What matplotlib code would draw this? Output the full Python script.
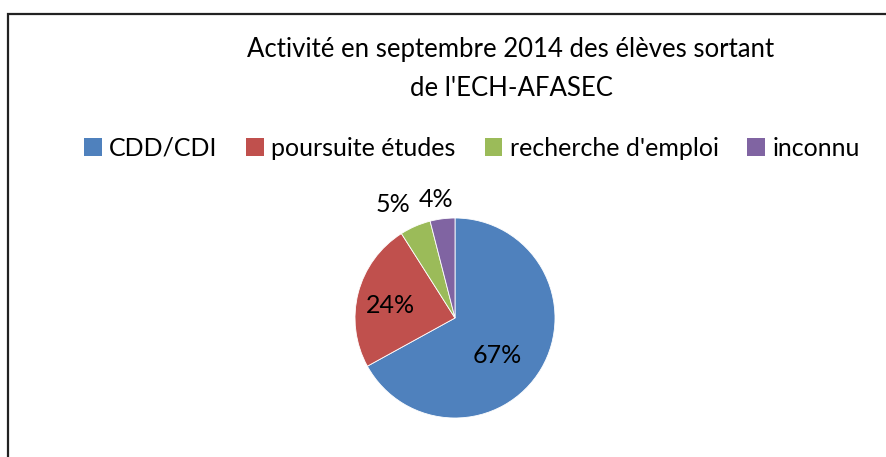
import numpy as np
import matplotlib
matplotlib.use("Agg")
import matplotlib.pyplot as plt
from matplotlib.patches import Rectangle, Patch

plt.rcParams['font.family'] = ['Lato', 'DejaVu Sans']

categories = ["CDD/CDI", "poursuite études", "recherche d'emploi", "inconnu"]
values = [67, 24, 5, 4]
colors = ["#4F81BD", "#C0504D", "#9BBB59", "#8064A2"]
# position des étiquettes : distance au centre, décalage d'angle (degrés)
label_dist = [0.56, 0.66, 1.29, 1.2]
label_shift = [-10.8, 3.4, 5.4, 1.8]

fig = plt.figure(figsize=(8.87, 4.57), dpi=100)

# cadre du graphique (seulement gauche et haut visibles)
fig.patches.append(Rectangle((8.5 / 887, -0.1), 1.2, 1 - 14.5 / 457 + 0.1,
                             transform=fig.transFigure, fill=False,
                             edgecolor="#222222", linewidth=1.6))

fig.text(511 / 887, 1 - 50 / 457, "Activité en septembre 2014 des élèves sortant",
         ha="center", va="center", fontsize=18.5)
fig.text(511 / 887, 1 - 88 / 457, "de l'ECH-AFASEC",
         ha="center", va="center", fontsize=18.5)

ax = fig.add_axes([355 / 887, 39 / 457, 200 / 887, 200 / 457])
wedges, texts = ax.pie(values, colors=colors, startangle=90, counterclock=False,
                       wedgeprops=dict(edgecolor="white", linewidth=0.6))
ax.set_xlim(-1, 1)
ax.set_ylim(-1, 1)

for w, v, d, s in zip(wedges, values, label_dist, label_shift):
    ang = np.deg2rad((w.theta1 + w.theta2) / 2 + s)
    ax.text(d * np.cos(ang), d * np.sin(ang), f"{v}%", ha="center", va="center",
            fontsize=18)

handles = [Patch(facecolor=c, edgecolor="none") for c in colors]
fig.legend(handles, categories, loc="center", bbox_to_anchor=(472 / 887, 1 - 148 / 457),
           ncol=4, frameon=False, fontsize=18, handlelength=0.7, handleheight=0.7,
           handletextpad=0.3, columnspacing=1.15)

fig.savefig("out.png", dpi=100)
